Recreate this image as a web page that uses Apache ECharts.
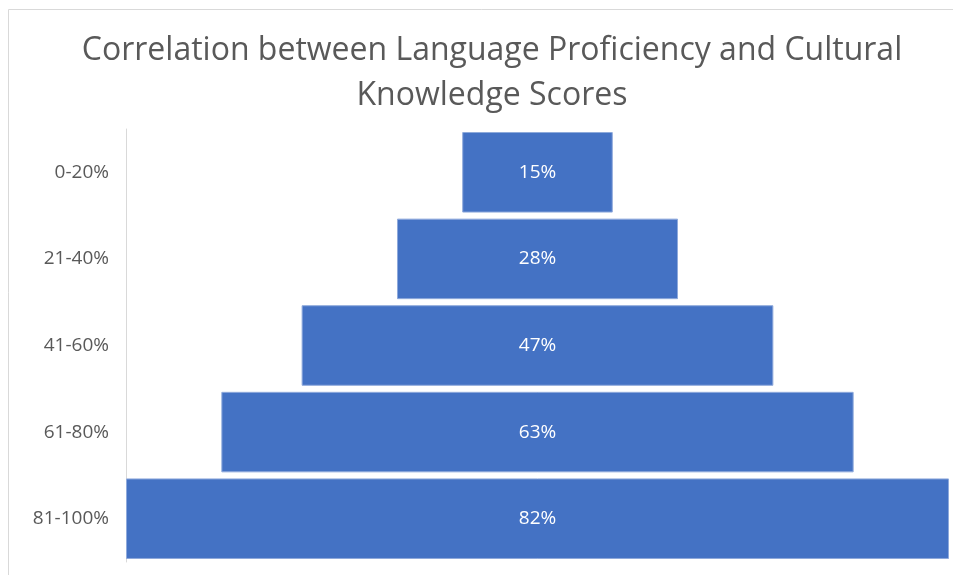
<!DOCTYPE html>
<html>
<head>
<meta charset="utf-8">
<script src="https://cdn.jsdelivr.net/npm/echarts@6/dist/echarts.min.js"></script>
<style>
  html, body { margin: 0; padding: 0; background: #fff; }
  #chart { width: 953px; height: 575px; }
</style>
</head>
<body>
<div id="chart"></div>
<script>
const titleText = 'Correlation between Language Proficiency and Cultural\nKnowledge Scores'
const categories = ['0-20%', '21-40%', '41-60%', '61-80%', '81-100%']
const values = [15, 28, 47, 63, 82]

const maxValue = Math.max(...values)
// invisible padding so each bar sits centred like an Excel funnel
const padding = values.map(v => (maxValue - v) / 2)

const chart = echarts.init(document.getElementById('chart'))

const option = {
  animation: false,
  textStyle: { fontFamily: 'Open Sans, sans-serif' },
  title: {
    text: titleText,
    left: 487,
    top: 23,
    textAlign: 'center',
    textStyle: {
      color: '#595959',
      fontSize: 32,
      fontWeight: 'normal',
      lineHeight: 45,
      fontFamily: 'Open Sans, sans-serif'
    }
  },
  graphic: [
    {
      type: 'rect',
      shape: { x: 8.5, y: 9.5, width: 1000, height: 600 },
      style: { fill: 'none', stroke: '#d9d9d9', lineWidth: 1 },
      silent: true
    }
  ],
  grid: {
    left: 126,
    right: 4,
    top: 129,
    bottom: 13
  },
  xAxis: {
    type: 'value',
    min: 0,
    max: maxValue,
    show: false
  },
  yAxis: {
    type: 'category',
    data: categories,
    inverse: true,
    axisLine: { show: true, lineStyle: { color: '#d9d9d9', width: 1 } },
    axisTick: { show: false },
    axisLabel: { color: '#595959', fontSize: 19, margin: 17 }
  },
  series: [
    {
      type: 'bar',
      stack: 'funnel',
      data: padding,
      itemStyle: { color: 'transparent' },
      silent: true,
      barCategoryGap: '7%'
    },
    {
      type: 'bar',
      stack: 'funnel',
      data: values,
      barCategoryGap: '7%',
      itemStyle: {
        color: '#4472C4',
        borderColor: '#8faadc',
        borderWidth: 1
      },
      label: {
        show: true,
        position: 'inside',
        color: '#ffffff',
        fontSize: 19,
        formatter: p => p.value + '%'
      }
    }
  ]
}

chart.setOption(option)

window.addEventListener('resize', () => chart?.resize())
</script>
</body>
</html>
